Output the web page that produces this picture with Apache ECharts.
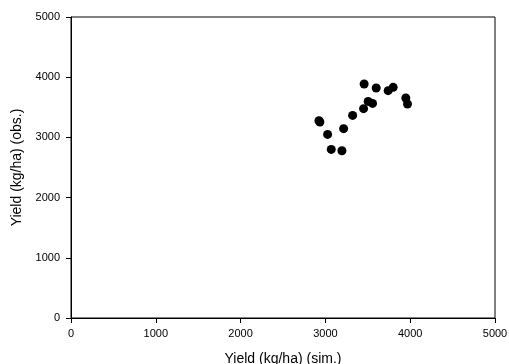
<!DOCTYPE html>
<html><head><meta charset="utf-8">
<script src="https://cdn.jsdelivr.net/npm/echarts@6/dist/echarts.min.js"></script>
<style>html,body{margin:0;padding:0;background:#fff}#c{width:509px;height:364px}</style>
</head><body><div id="c"></div>
<script>
const simYield = [3457, 3599, 3740, 3799, 3948, 3968, 3504, 3556, 3450, 3321, 2924, 2935, 3215, 3026, 3069, 3195];
const obsYield = [3887, 3821, 3776, 3831, 3654, 3555, 3598, 3565, 3477, 3365, 3277, 3255, 3145, 3050, 2801, 2779];
const tickLabels = ['0', '1000', '2000', '3000', '4000', '5000'];
const xTitle = 'Yield (kg/ha) (sim.)';
const yTitle = 'Yield (kg/ha) (obs.)';

const labelFont = '"Liberation Sans Narrow", "Liberation Sans", Arial, sans-serif';
const titleFont = '"Liberation Sans", Arial, sans-serif';
const chart = echarts.init(document.getElementById('c'));
const fmt = v => tickLabels[Math.round(v / 1000)] ?? String(v);
const axisCommon = {
  type: 'value', min: 0, max: 5000, interval: 1000,
  axisLine: {show: true, lineStyle: {color: '#000', width: 1}},
  axisTick: {show: true, inside: false, length: 5, lineStyle: {color: '#000'}},
  splitLine: {show: false},
  nameLocation: 'middle',
  nameTextStyle: {fontFamily: titleFont, fontSize: 14, color: '#000'}
};
chart.setOption({
  animation: false,
  grid: {left: 71, right: 14, top: 17, bottom: 46, show: true, borderColor: '#000', borderWidth: 1,
         containLabel: false, outerBoundsMode: 'none'},
  xAxis: Object.assign({}, axisCommon, {name: xTitle, nameGap: 34,
    axisLabel: {fontFamily: labelFont, fontSize: 11, color: '#000', margin: 10, formatter: fmt}}),
  yAxis: Object.assign({}, axisCommon, {name: yTitle, nameGap: 46,
    axisLabel: {fontFamily: labelFont, fontSize: 11, color: '#000', margin: 11, formatter: fmt}}),
  series: [{
    type: 'scatter',
    symbol: 'circle', symbolSize: 9,
    itemStyle: {color: '#000', opacity: 1},
    data: simYield.map((x, i) => [x, obsYield[i]])
  }]
});
</script></body></html>
